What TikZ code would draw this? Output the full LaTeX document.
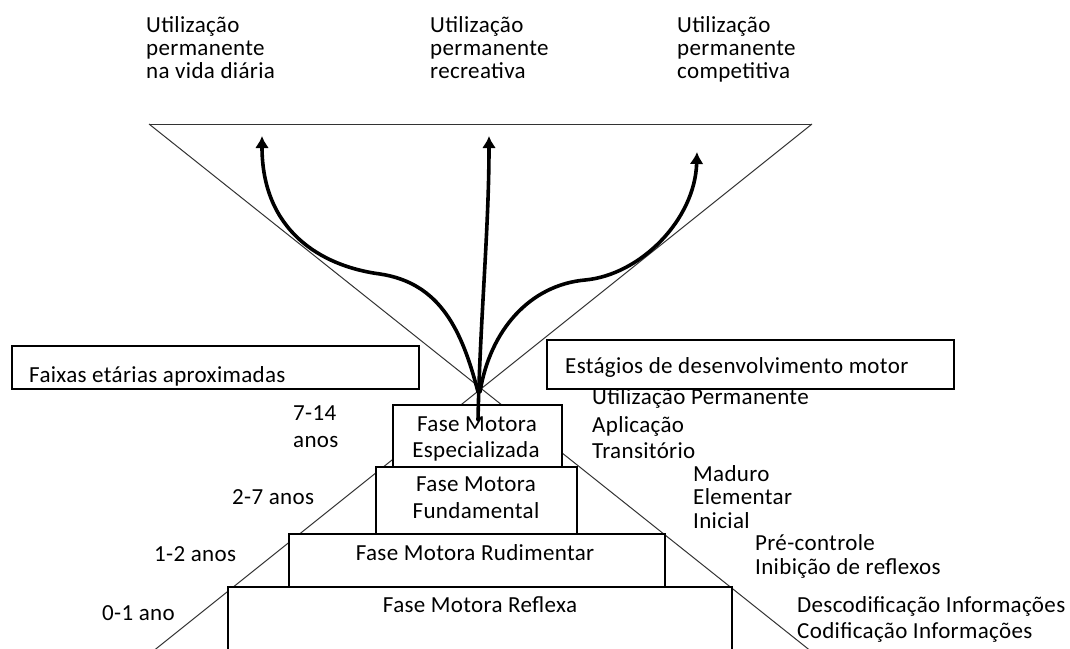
\documentclass[tikz,border=0pt]{standalone}
\usepackage{fontspec}
\setmainfont{Carlito}[LetterSpace=1.5]
\usetikzlibrary{arrows.meta}
\tikzset{
  guide/.style={line width=1pt, draw=black!80},
  stagebox/.style={draw=black, line width=1.8pt, fill=white, inner sep=0pt, outer sep=0pt},
  lbl/.style={anchor=base west, inner sep=0pt, font=\fontsize{23}{27}\selectfont},
  ctr/.style={anchor=base, inner sep=0pt, font=\fontsize{23}{27}\selectfont},
  flow/.style={line width=3.6pt, line cap=round, -{Latex[length=12pt,width=14pt]}}
}
\begin{document}
\begin{tikzpicture}[x=1pt,y=-1pt]
\useasboundingbox (0,0) rectangle (1070,648);
% funnel / pyramid lines
\coordinate (TL) at (149,124);
\coordinate (TR) at (812,124);
\coordinate (BL) at (152,652);
\coordinate (BR) at (812,652);
\draw[guide] (TL) -- (TR);
\draw[guide] (TL) -- (BR);
\draw[guide] (TR) -- (BL);
% stage boxes
\node[stagebox, minimum width=169pt, minimum height=62pt] (esp) at (477.5,436) {};
\node[stagebox, minimum width=201pt, minimum height=67pt] (fun) at (476.5,500.5) {};
\node[stagebox, minimum width=376pt, minimum height=53pt] (rud) at (477,560.5) {};
\node[stagebox, minimum width=504pt, minimum height=80pt] (ref) at (480,627) {};
% label boxes
\node[stagebox, minimum width=407pt, minimum height=43pt] (faixas) at (215.5,367.5) {};
\node[stagebox, minimum width=407pt, minimum height=49pt] (estag) at (750.5,364.5) {};
% arrows
\coordinate (apexL) at (478,392);
\coordinate (apexR) at (480,392);
\coordinate (mstart) at (478,420);
\coordinate (lt) at (262,136);
\coordinate (mt) at (489,136);
\coordinate (rt) at (697,152);
\draw[flow] (apexL) .. controls (462,330) and (440,283) .. (380,274) .. controls (320,266) and (262,230) .. (lt);
\draw[flow] (mstart) .. controls (480,320) and (489,230) .. (mt);
\draw[flow] (apexR) .. controls (490,330) and (530,285) .. (585,280) .. controls (640,275) and (695,220) .. (rt);
% top texts
\node[lbl] (t1a) at (146,32) {Utilização};
\node[lbl] (t1b) at (146,55) {permanente};
\node[lbl] (t1c) at (146,78) {na vida diária};
\node[lbl] (t2a) at (430,32) {Utilização};
\node[lbl] (t2b) at (430,55) {permanente};
\node[lbl] (t2c) at (430,78) {recreativa};
\node[lbl] (t3a) at (677,32) {Utilização};
\node[lbl] (t3b) at (677,55) {permanente};
\node[lbl] (t3c) at (677,78) {competitiva};
% label box texts
\node[lbl] (lf) at (29,382) {Faixas etárias aproximadas};
\node[lbl] (le) at (565,373) {Estágios de desenvolvimento motor};
% box texts
\node[ctr] (e1) at (477,431) {Fase Motora};
\node[ctr] (e2) at (476,457) {Especializada};
\node[ctr] (f1) at (476,491) {Fase Motora};
\node[ctr] (f2) at (476,518) {Fundamental};
\node[ctr] (r1) at (475,560) {Fase Motora Rudimentar};
\node[ctr] (x1) at (480,612) {Fase Motora Reflexa};
% ages
\node[lbl] (a1) at (293,420) {7-14};
\node[lbl] (a2) at (293,447) {anos};
\node[lbl] (a3) at (232,504) {2-7 anos};
\node[lbl] (a4) at (154,561) {1-2 anos};
\node[lbl] (a5) at (102,620) {0-1 ano};
% stages
\node[lbl] (s1) at (592,404) {Utilização Permanente};
\node[lbl] (s2) at (592,432) {Aplicação};
\node[lbl] (s3) at (592,458) {Transitório};
\node[lbl] (s4) at (693,481) {Maduro};
\node[lbl] (s5) at (693,504) {Elementar};
\node[lbl] (s6) at (693,528) {Inicial};
\node[lbl] (s7) at (755,550) {Pré-controle};
\node[lbl] (s8) at (755,574) {Inibição de reflexos};
\node[lbl] (s9) at (797,612) {Descodificação Informações};
\node[lbl] (s10) at (797,638) {Codificação Informações};
\end{tikzpicture}
\end{document}
